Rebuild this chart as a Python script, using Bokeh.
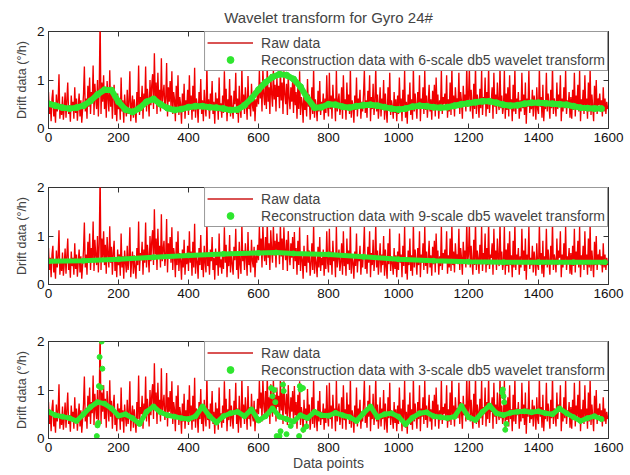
from bokeh.plotting import figure
from bokeh.layouts import column
from bokeh.models import FixedTicker, LinearAxis, Legend, LegendItem, Range1d
from bokeh.embed import file_html
from bokeh.resources import INLINE

# ---------------- data ----------------
raw_step = 2.5
raw_drift = [
    0.75,0.30,0.55,0.15,0.62,0.80,0.25,0.45,0.12,0.70,0.35,0.58,1.12,0.20,0.50,0.28,0.66,0.18,0.42,0.74,
    0.22,0.60,0.95,0.30,0.48,0.14,0.68,0.38,0.55,0.20,0.85,0.32,0.62,0.16,0.46,0.72,0.25,0.58,0.12,0.40,
    0.70,1.28,0.35,0.62,0.20,0.88,0.45,1.05,0.30,0.75,0.52,1.30,0.28,0.92,0.60,0.40,1.00,0.25,0.85,2.30,
    0.30,0.95,0.55,1.10,0.40,0.82,0.22,0.98,0.62,0.35,1.20,0.45,0.78,0.20,0.66,0.90,0.28,0.55,0.15,0.72,
    0.40,0.62,0.18,1.05,0.35,0.58,0.12,0.70,0.45,0.25,0.80,0.30,0.55,1.18,0.15,0.48,0.68,0.22,0.60,0.35,
    0.12,0.75,0.40,1.30,0.28,0.65,0.50,0.88,0.20,0.72,0.45,1.28,0.35,0.82,0.58,0.25,1.00,0.48,0.90,1.12,
    0.40,1.55,0.62,0.95,0.30,1.15,0.55,0.80,0.35,1.45,0.48,0.72,0.90,0.38,0.62,1.35,0.25,0.85,0.55,0.98,
    0.45,1.18,0.30,0.75,0.60,0.15,0.88,0.40,1.10,0.28,0.65,0.50,0.10,0.72,0.35,0.92,0.20,0.58,0.42,0.80,
    0.28,1.10,0.45,0.68,0.18,0.88,0.35,1.25,0.22,0.62,0.48,0.12,0.75,0.40,1.02,0.30,0.58,0.15,0.80,0.45,
    0.25,1.30,0.38,0.60,0.20,0.72,0.48,0.98,0.30,0.55,0.10,0.74,0.40,0.62,0.18,1.05,0.35,0.52,0.22,0.68,
    0.32,1.18,0.45,0.82,0.15,0.60,0.38,1.02,0.25,0.68,0.42,0.20,0.78,0.50,1.15,0.30,0.62,0.12,0.88,0.40,
    0.22,1.25,0.48,0.70,0.30,0.85,0.55,0.18,1.08,0.40,0.65,0.25,0.92,0.48,0.35,0.78,0.15,0.60,0.45,0.82,
    0.50,1.20,0.62,0.95,0.35,1.25,0.70,0.48,0.98,0.40,1.30,0.55,0.85,0.30,1.12,0.72,0.45,1.22,0.60,0.90,
    0.35,1.05,0.65,0.88,0.42,1.25,0.58,0.95,0.30,1.18,0.70,0.50,0.92,0.28,1.10,0.62,0.40,0.85,0.55,0.98,
    0.32,1.08,0.48,0.75,0.20,0.90,0.40,1.18,0.28,0.65,0.52,0.12,0.80,0.38,0.62,0.25,1.02,0.45,0.70,0.18,
    0.42,0.85,0.30,1.25,0.22,0.60,0.45,0.15,0.78,0.35,0.98,0.28,0.55,0.40,0.72,0.18,0.62,0.32,1.10,0.45,
    0.25,1.15,0.40,0.68,0.20,0.90,0.48,0.62,0.15,1.20,0.35,0.55,0.72,0.28,0.45,0.85,0.20,1.10,0.38,0.60,
    0.18,0.95,0.42,0.70,0.30,1.25,0.22,0.58,0.45,0.12,0.68,0.38,1.05,0.25,0.62,0.48,0.80,0.20,0.55,0.35,
    0.70,1.20,0.32,0.58,0.22,0.78,0.45,1.10,0.15,0.65,0.40,0.92,0.28,0.55,1.25,0.35,0.70,0.20,0.48,0.85,
    0.25,0.62,0.40,1.00,0.18,0.72,0.35,0.12,0.85,0.42,1.15,0.28,0.58,0.45,0.20,0.75,0.32,0.60,0.15,0.68,
    0.30,1.05,0.45,0.62,0.15,0.80,0.38,1.20,0.22,0.55,0.10,0.70,0.40,0.95,0.28,0.60,0.18,1.25,0.35,0.72,
    0.48,0.20,0.75,0.40,1.10,0.15,0.62,0.45,0.85,0.30,1.20,0.38,0.68,0.22,0.55,0.90,0.35,0.60,0.18,0.78,
    0.42,0.90,0.25,1.05,0.48,0.70,0.20,0.58,0.38,1.20,0.30,0.65,0.50,0.72,0.45,1.10,0.22,0.60,0.35,0.95,
    0.28,1.25,0.40,0.68,0.25,0.85,0.52,0.62,0.42,1.15,0.30,0.75,0.55,0.20,0.88,0.48,0.70,0.35,1.30,0.45,
    0.62,1.25,0.35,0.80,0.48,0.20,0.92,0.40,1.30,0.30,0.70,0.55,0.22,0.82,0.42,1.20,0.28,0.65,0.50,1.05,
    0.25,0.75,0.40,1.30,0.32,0.62,0.55,0.85,0.20,1.15,0.45,0.70,0.30,0.95,0.52,0.38,1.28,0.42,0.68,0.30,
    0.45,1.20,0.20,0.72,0.38,0.85,0.25,1.10,0.40,0.60,0.15,0.90,0.35,1.25,0.30,0.62,0.48,0.75,0.20,0.58,
    0.35,1.15,0.42,0.70,0.28,0.95,0.10,0.62,0.45,1.20,0.32,0.55,0.40,0.80,0.25,0.68,0.48,0.18,0.85,0.40,
    0.30,1.25,0.45,0.65,0.22,0.90,0.15,0.58,0.40,1.15,0.35,0.72,0.48,0.20,0.80,0.42,1.30,0.30,0.62,0.50,
    0.25,0.95,0.40,0.70,0.55,1.10,0.15,0.62,0.35,0.85,0.42,1.20,0.30,0.58,0.48,0.75,0.22,0.65,0.20,0.80,
    0.38,1.15,0.25,0.68,0.45,0.90,0.35,1.20,0.15,0.60,0.42,0.80,0.30,1.10,0.40,0.62,0.20,0.95,0.35,1.25,
    0.28,0.70,0.45,0.15,0.88,0.40,1.00,0.30,0.62,0.48,0.72,0.40,0.58,0.25,0.85,0.35,0.62,0.30,0.55,0.40,
]
raw_x = [i * raw_step for i in range(len(raw_drift))]

# 6-scale reconstruction, sampled every 20 points
recon6_step = 20
recon6 = [
    0.51,0.47,0.43,0.41,0.43,0.47,0.57,0.70,0.80,0.79,0.55,0.39,0.34,0.42,0.55,0.61,0.50,0.42,0.38,0.40,
    0.44,0.46,0.46,0.44,0.43,0.41,0.38,0.39,0.48,0.62,0.80,0.95,1.06,1.12,1.10,1.02,0.86,0.62,0.43,0.44,
    0.50,0.49,0.45,0.43,0.46,0.48,0.49,0.47,0.44,0.41,0.39,0.41,0.45,0.47,0.46,0.44,0.43,0.44,0.47,0.50,
    0.52,0.54,0.56,0.56,0.53,0.49,0.47,0.48,0.51,0.53,0.53,0.52,0.51,0.50,0.49,0.46,0.43,0.42,0.41,0.41,
]
recon6_x = [i * recon6_step for i in range(len(recon6))]

# 9-scale reconstruction
recon9_x = [0, 100, 200, 300, 400, 500, 600, 650, 700, 800, 900, 1000, 1100, 1200, 1300, 1400, 1500, 1590]
recon9 = [0.48, 0.49, 0.52, 0.56, 0.60, 0.63, 0.65, 0.66, 0.64, 0.62, 0.57, 0.52, 0.49, 0.47, 0.46, 0.46, 0.46, 0.46]

# 3-scale reconstruction, sampled every 20 points, plus scattered outlying points
recon3_step = 20
recon3 = [
    0.55,0.48,0.45,0.42,0.36,0.50,0.65,0.75,0.72,0.62,0.47,0.50,0.42,0.30,0.55,0.66,0.54,0.48,0.45,0.42,
    0.40,0.46,0.66,0.46,0.33,0.46,0.52,0.55,0.46,0.60,0.37,0.46,0.62,0.45,0.40,0.35,0.48,0.42,0.55,0.48,
    0.47,0.53,0.48,0.44,0.36,0.52,0.66,0.44,0.50,0.52,0.45,0.29,0.43,0.52,0.54,0.46,0.44,0.42,0.45,0.67,
    0.44,0.38,0.55,0.68,0.52,0.48,0.53,0.55,0.56,0.54,0.56,0.52,0.50,0.62,0.52,0.44,0.36,0.42,0.46,0.40,
]
recon3_x = [i * recon3_step for i in range(len(recon3))]
recon3_out_x = [138, 140, 142, 144, 146, 150, 152, 154, 636, 640, 645, 648, 652, 660, 663, 670, 672, 680,
                692, 716, 718, 720, 727, 728, 737, 1296, 1298, 1300, 1302, 1305, 1308]
recon3_out_y = [0.05, 0.27, 0.32, 1.08, 1.68, 1.05, 2.00, 1.44, 1.04, 0.87, 1.00, 0.75, 0.05, 0.05, 0.15, 1.11, 0.98, 0.09,
                0.26, 0.05, 1.08, 1.01, 1.04, 0.18, 0.25, 0.95, 1.01, 0.87, 0.75, 0.18, 0.30]

x_ticks = [0, 200, 400, 600, 800, 1000, 1200, 1400, 1600]
y_ticks = [0, 1, 2]

FONT = "Liberation Sans"
RED = "#f00000"
GREEN = "#2ee62e"
AXC = "#333333"
NAN = float("nan")


def make_panel(top, bottom, scale_label, gx, gy, line_w, ox=None, oy=None,
               title=None, xlabel=None):
    p = figure(frame_width=560, frame_height=97, output_backend="svg", toolbar_location=None,
               x_range=Range1d(0, 1600), y_range=Range1d(0, 2),
               min_border_left=48, min_border_right=20, min_border_top=top,
               min_border_bottom=bottom, background_fill_color="white",
               border_fill_color="white")
    p.grid.visible = False
    p.outline_line_color = AXC
    p.outline_line_width = 1
    if title:
        p.title.text = title
        p.title.align = "center"
        p.title.text_font = FONT
        p.title.text_font_size = "15px"
        p.title.text_font_style = "normal"
        p.title.standoff = 11

    for ax in (p.xaxis[0], p.yaxis[0]):
        ax.major_tick_in = 5
        ax.major_tick_out = 0
        ax.minor_tick_in = 0
        ax.minor_tick_out = 0
        ax.axis_line_color = AXC
        ax.major_tick_line_color = AXC
        ax.major_label_text_font = FONT
        ax.major_label_text_font_size = "13.5px"
        ax.major_label_text_color = "#111111"
    p.xaxis[0].ticker = FixedTicker(ticks=x_ticks)
    p.yaxis[0].ticker = FixedTicker(ticks=y_ticks)
    p.xaxis[0].major_label_standoff = 4
    p.yaxis[0].major_label_standoff = 4
    p.yaxis[0].axis_label = "Drift data (°/h)"
    p.yaxis[0].axis_label_text_font = FONT
    p.yaxis[0].axis_label_text_font_size = "12.5px"
    p.yaxis[0].axis_label_text_font_style = "normal"
    p.yaxis[0].axis_label_standoff = 5
    if xlabel:
        p.xaxis[0].axis_label = xlabel
        p.xaxis[0].axis_label_text_font = FONT
        p.xaxis[0].axis_label_text_font_size = "14px"
        p.xaxis[0].axis_label_text_font_style = "normal"
        p.xaxis[0].axis_label_standoff = 0

    # mirrored ticks on top and right
    for loc, tick in (("right", y_ticks), ("above", x_ticks)):
        ax = LinearAxis(ticker=FixedTicker(ticks=tick), major_tick_in=5, major_tick_out=0,
                        minor_tick_in=0, minor_tick_out=0, major_label_text_font_size="0px",
                        major_label_standoff=0, axis_line_color=None,
                        major_tick_line_color=AXC)
        p.add_layout(ax, loc)

    p.line(raw_x, raw_drift, line_color=RED, line_width=1.35)
    # legend-only key (no visible points)
    raw_key = p.line([NAN], [NAN], line_color="#cc1a1a", line_width=1.5)
    p.line(gx, gy, line_color=GREEN, line_width=line_w)
    rec = p.scatter(gx, gy, size=line_w, marker="circle", fill_color=GREEN, line_color=GREEN)
    if ox is not None:
        p.scatter(ox, oy, size=5, marker="circle", fill_color=GREEN, line_color=GREEN)

    legend = Legend(items=[
        LegendItem(label="Raw data", renderers=[raw_key]),
        LegendItem(label="Reconstruction data with %s db5 wavelet transform" % scale_label,
                   renderers=[rec]),
    ], location="top_right", margin=0, padding=2, spacing=0, label_height=17,
        glyph_height=17, glyph_width=46, label_standoff=8, label_text_font=FONT,
        label_text_font_size="14px", border_line_color=AXC, border_line_width=1,
        background_fill_color="white", background_fill_alpha=1.0)
    p.add_layout(legend)
    return p


p1 = make_panel(31, 28, "6-scale", recon6_x, recon6, 6,
                title="Wavelet transform for Gyro 24#")
p2 = make_panel(31, 26, "9-scale", recon9_x, recon9, 5)
p3 = make_panel(31, 20, "3-scale", recon3_x, recon3, 5,
                ox=recon3_out_x, oy=recon3_out_y, xlabel="Data points")

layout = column(p1, p2, p3, spacing=0)
open("out.html", "w").write(file_html(layout, INLINE))
